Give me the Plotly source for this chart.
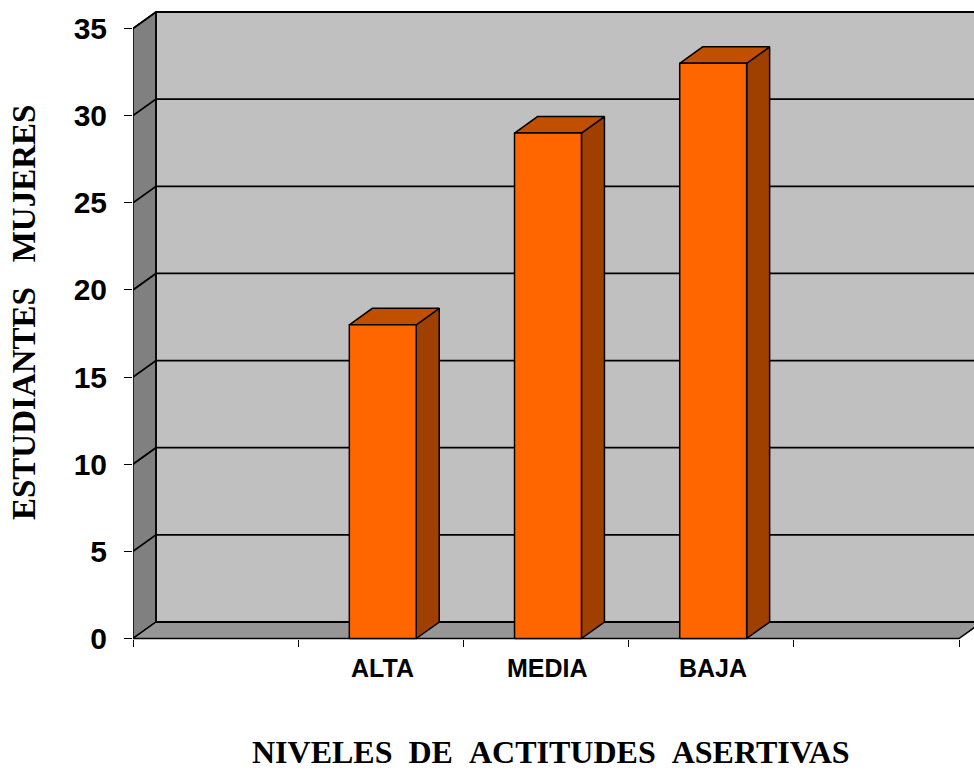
import plotly.graph_objects as go

# ---- data -------------------------------------------------------------
categories = ["", "ALTA", "MEDIA", "BAJA", ""]
values = [None, 18, 29, 33, None]
y_ticks = [0, 5, 10, 15, 20, 25, 30, 35]
x_title = "NIVELES\u00a0\u00a0DE\u00a0\u00a0ACTITUDES\u00a0\u00a0ASERTIVAS"
y_title = "ESTUDIANTES\u00a0\u00a0\u00a0MUJERES"

# ---- geometry / style ---------------------------------------------------
W, H = 974, 774
M_L, M_R, M_T, M_B = 133, 0, 0, 114
PX_PER_X = 165.2          # pixels per category slot
Y0_PX = 638.5             # pixel row of value 0 on the front plane
PX_PER_Y = 610 / 35.0     # pixels per unit of value
DEPTH_X = 23 / PX_PER_X   # 3-D depth offset, in axis units
DEPTH_Y = 16.5 / PX_PER_Y
BAR_W = 0.405
BAR_SHIFT = 0.012
Y_MAX = max(y_ticks)

plot_w = W - M_L - M_R
plot_h = H - M_T - M_B
plot_bottom = M_T + plot_h
x_lo = -0.5
x_hi = x_lo + plot_w / PX_PER_X
y_lo = -(plot_bottom - Y0_PX) / PX_PER_Y
y_hi = (Y0_PX - M_T) / PX_PER_Y
x_first = -0.5
x_last = len(categories) - 0.5
x_far = x_hi + 0.5

BACK_WALL = "#C0C0C0"
SIDE_WALL = "#808080"
FLOOR = "#969696"
BAR_FRONT = "#FF6600"
BAR_SIDE = "#A04000"
BAR_TOP = "#C05000"
EDGE = "#000000"


def paper_x(xv):
    return (xv - x_lo) / (x_hi - x_lo)


def paper_px_x(px):
    return (px - M_L) / plot_w


def paper_px_y(py):
    return (plot_bottom - py) / plot_h


fig = go.Figure()


def poly(xs, ys, fill, width=1.5):
    fig.add_trace(go.Scatter(
        x=list(xs) + [xs[0]], y=list(ys) + [ys[0]],
        mode="lines", fill="toself", fillcolor=fill,
        line=dict(color=EDGE, width=width),
        hoverinfo="skip", showlegend=False))


def path(xs, ys, width=1.8):
    fig.add_trace(go.Scatter(
        x=xs, y=ys, mode="lines",
        line=dict(color=EDGE, width=width),
        hoverinfo="skip", showlegend=False))


# back wall
fig.add_trace(go.Scatter(
    x=[x_first + DEPTH_X, x_far, x_far, x_first + DEPTH_X, x_first + DEPTH_X],
    y=[DEPTH_Y, DEPTH_Y, Y_MAX + DEPTH_Y, Y_MAX + DEPTH_Y, DEPTH_Y],
    mode="lines", fill="toself", fillcolor=BACK_WALL,
    line=dict(color="rgba(0,0,0,0)", width=0),
    hoverinfo="skip", showlegend=False))

# left wall
poly([x_first, x_first, x_first + DEPTH_X, x_first + DEPTH_X],
     [0, Y_MAX, Y_MAX + DEPTH_Y, DEPTH_Y], SIDE_WALL)

# floor
poly([x_first, x_last, x_last + DEPTH_X, x_first + DEPTH_X],
     [0, 0, DEPTH_Y, DEPTH_Y], FLOOR)

# gridlines across the side wall and back wall
for t in y_ticks:
    if t == 0:
        path([x_first + DEPTH_X, x_far], [DEPTH_Y, DEPTH_Y])
        continue
    path([x_first, x_first + DEPTH_X, x_far], [t, t + DEPTH_Y, t + DEPTH_Y])

# back wall left edge
path([x_first + DEPTH_X, x_first + DEPTH_X], [DEPTH_Y, Y_MAX + DEPTH_Y], 1.5)

# 3-D bars
for i, v in enumerate(values):
    if v is None:
        continue
    c = i + BAR_SHIFT
    x0, x1 = c - BAR_W / 2, c + BAR_W / 2
    poly([x1, x1 + DEPTH_X, x1 + DEPTH_X, x1],
         [0, DEPTH_Y, v + DEPTH_Y, v], BAR_SIDE)
    poly([x0, x1, x1 + DEPTH_X, x0 + DEPTH_X],
         [v, v, v + DEPTH_Y, v + DEPTH_Y], BAR_TOP)
    poly([x0, x1, x1, x0], [0, 0, v, v], BAR_FRONT)

# category labels
for i, c in enumerate(categories):
    if not c:
        continue
    fig.add_annotation(
        x=paper_x(i + BAR_SHIFT), y=paper_px_y(668), xref="paper", yref="paper",
        text=c, showarrow=False, xanchor="center", yanchor="middle",
        font=dict(family="Liberation Sans, Arial", size=25, color="#000000",
                  weight="bold"))

# axis titles
fig.add_annotation(
    x=paper_px_x(550.5), y=paper_px_y(752), xref="paper", yref="paper",
    text=x_title, showarrow=False, xanchor="center", yanchor="middle",
    font=dict(family="Liberation Serif, Times New Roman", size=32,
              color="#000000", weight="bold"))
fig.add_annotation(
    x=paper_px_x(24), y=paper_px_y(313), xref="paper", yref="paper",
    text=y_title, showarrow=False, textangle=-90,
    xanchor="center", yanchor="middle",
    font=dict(family="Liberation Serif, Times New Roman", size=33,
              color="#000000", weight="bold"))

fig.update_layout(
    width=W, height=H,
    margin=dict(l=M_L, r=M_R, t=M_T, b=M_B, pad=0),
    paper_bgcolor="#FFFFFF", plot_bgcolor="#FFFFFF",
    showlegend=False,
    xaxis=dict(
        range=[x_lo, x_hi], showgrid=False, zeroline=False, showline=False,
        tickmode="array", tickvals=[x_first + k for k in range(len(categories) + 1)],
        showticklabels=False, ticks="outside", ticklen=7, tickwidth=1,
        tickcolor="#000000", anchor="free",
        position=(plot_bottom - Y0_PX) / plot_h),
    yaxis=dict(
        range=[y_lo, y_hi], showgrid=False, zeroline=False, showline=False,
        tickmode="array", tickvals=y_ticks, ticks="outside", ticklen=8,
        tickwidth=1, tickcolor="#000000", ticklabelstandoff=11,
        tickfont=dict(family="Liberation Sans, Arial", size=30,
                      color="#000000", weight="bold")),
)

fig.write_html("out.html")
